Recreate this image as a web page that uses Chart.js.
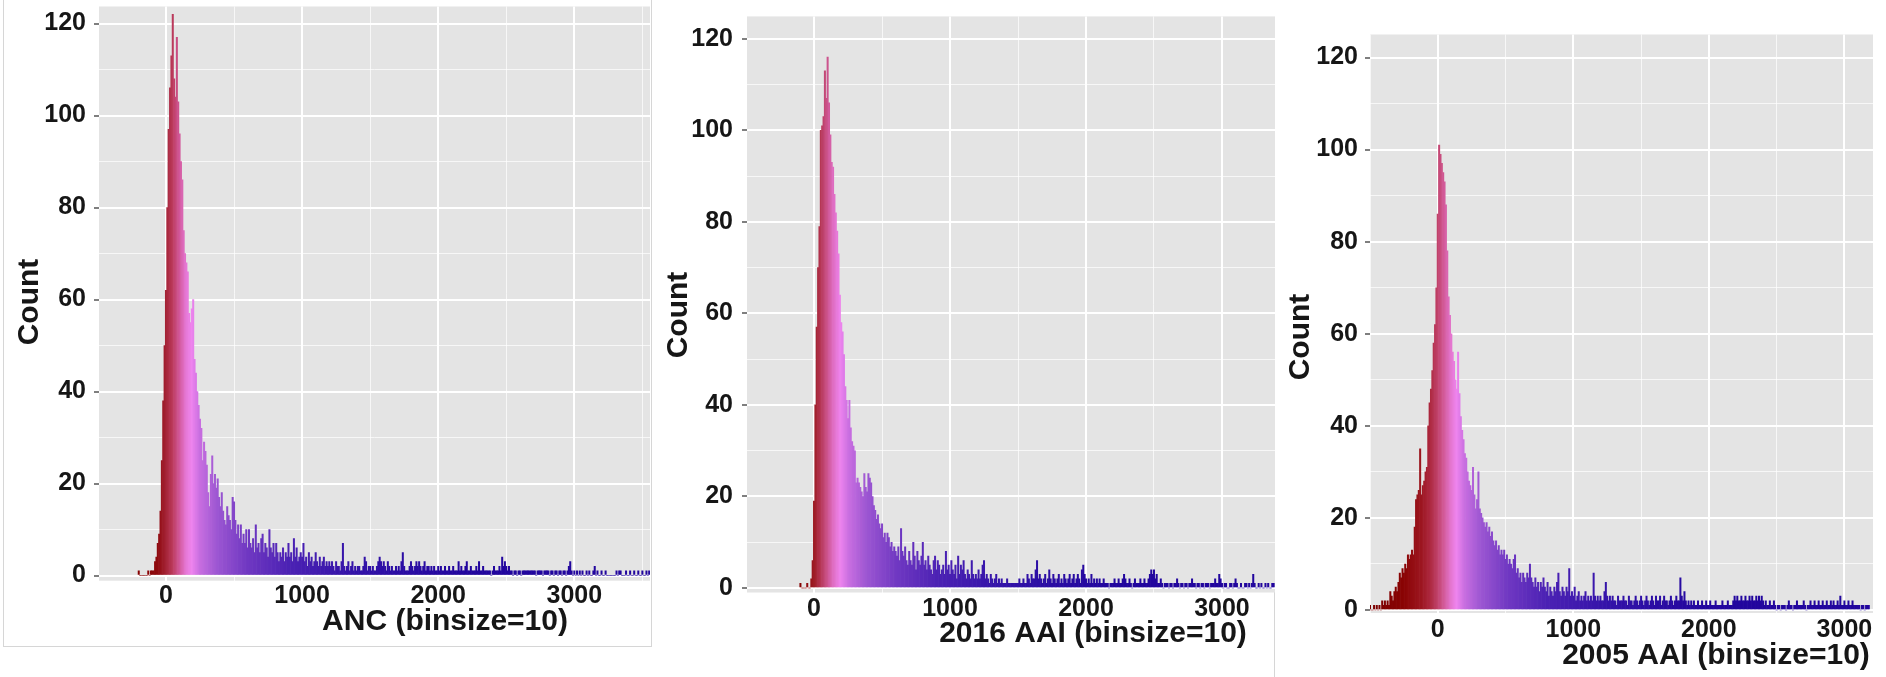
<!DOCTYPE html>
<html>
<head>
<meta charset="utf-8">
<script src="https://cdn.jsdelivr.net/npm/chart.js@4.4.1/dist/chart.umd.min.js"></script>
<style>
html,body{margin:0;padding:0;background:#ffffff;width:1886px;height:677px;overflow:hidden;position:relative;}
canvas{position:absolute;left:0;top:0;}
.frame{position:absolute;border:1px solid #d6d6d6;}
</style>
</head>
<body>
<div class="frame" style="left:3px;top:-2px;width:647px;height:647px;"></div>
<div class="frame" style="left:1274px;top:17px;width:0;height:670px;border-width:0 0 0 1px;"></div>
<canvas id="c1" width="1886" height="677"></canvas>
<canvas id="c2" width="1886" height="677"></canvas>
<canvas id="c3" width="1886" height="677"></canvas>
<script>
// ---------------- DATA ----------------
const BIN_SIZE = 10;
const xTickLabels = [0, 1000, 2000, 3000];
const xGridValues = [-500, 0, 500, 1000, 1500, 2000, 2500, 3000, 3500];
const yTickLabels = [0, 20, 40, 60, 80, 100, 120];
const yGridValues = [0, 10, 20, 30, 40, 50, 60, 70, 80, 90, 100, 110, 120];
const yAxisTitle = 'Count';

// Panel 1: ANC, first bin centre -200
const ancTitle = 'ANC (binsize=10)';
const ancStart = -200;
const ancCounts = [
  1,0,0,0,0,0,0,1,0,1,
  1,1,3,4,7,9,14,25,38,50,
  62,80,97,106,113,122,108,104,117,103,
  96,90,86,75,70,68,66,57,55,58,
  60,47,44,40,37,34,32,25,29,27,
  24,18,15,22,26,20,22,19,21,17,
  15,18,14,12,11,15,13,12,10,17,
  16,12,9,11,8,11,7,9,7,10,
  6,10,7,6,8,5,11,6,7,5,
  8,9,5,7,6,4,10,6,5,7,
  4,7,5,3,5,4,6,3,5,4,
  7,4,5,3,8,4,6,3,4,5,
  4,7,3,4,2,5,3,4,2,3,
  5,3,2,4,2,3,4,2,3,2,
  3,2,3,2,1,3,2,2,1,3,
  7,2,1,2,3,1,2,3,1,2,
  1,2,2,1,1,2,4,3,1,2,
  2,1,2,1,1,2,3,4,3,2,
  3,2,1,3,2,1,2,1,1,2,
  1,2,1,3,5,2,1,1,1,2,
  3,2,1,2,3,2,3,2,1,2,
  3,1,2,2,1,2,1,2,1,1,
  2,1,2,1,1,2,1,1,2,1,
  1,2,1,1,1,3,1,2,1,1,
  2,3,1,1,2,1,1,1,2,1,
  3,1,1,2,1,1,1,1,1,0,
  1,2,1,1,1,2,1,4,2,3,
  2,1,2,1,1,0,1,1,0,1,
  1,0,1,1,1,1,1,1,1,1,
  1,1,0,1,1,1,1,0,1,1,
  1,1,0,1,1,0,1,1,0,1,
  1,0,1,1,0,1,2,3,1,0,
  1,0,1,0,1,0,1,0,0,1,
  0,1,0,0,1,2,0,1,0,0,
  1,0,0,1,0,0,0,0,0,0,
  0,1,0,1,1,0,0,0,1,0,
  0,1,0,0,1,0,0,1,0,0,
  1,0,0,1,0,1
];

// Panel 2: 2016 AAI, first bin centre -100
const aai2016Title = '2016 AAI (binsize=10)';
const aai2016Start = -100;
const aai2016Counts = [
  1,0,0,0,0,1,0,0,2,6,
  19,40,57,70,79,100,101,103,113,107,
  116,106,99,93,92,86,82,78,73,64,
  58,56,51,44,41,37,41,35,32,31,
  30,23,24,23,22,21,20,25,22,21,
  25,24,23,20,18,17,15,16,14,13,
  14,11,12,10,12,11,9,10,8,9,
  8,7,9,6,13,8,7,9,6,5,
  8,6,5,10,7,4,8,6,5,7,
  10,5,6,4,7,5,4,3,6,7,
  4,6,5,3,4,5,3,8,4,5,
  3,6,4,3,5,2,7,3,5,4,
  6,3,2,4,3,2,6,3,2,3,
  2,4,2,3,5,6,2,3,2,1,
  3,2,1,2,3,1,2,1,2,1,
  1,1,2,1,1,1,1,1,1,1,
  1,2,1,1,2,1,1,3,2,1,
  3,2,2,4,6,2,3,2,1,2,
  3,1,2,4,2,1,3,2,1,2,
  3,1,2,1,3,2,1,2,3,1,
  2,3,1,2,3,2,1,4,5,3,
  2,1,2,1,3,1,2,1,2,1,
  2,1,1,2,1,1,1,0,1,1,
  1,2,1,1,2,1,1,2,3,2,
  1,1,2,1,0,1,2,1,1,1,
  2,1,1,2,1,1,2,3,4,3,
  4,2,3,1,1,2,1,0,1,1,
  1,0,1,1,0,1,1,2,1,0,
  1,1,0,1,1,0,1,1,2,1,
  1,0,1,1,0,1,1,0,1,1,
  1,0,1,1,1,2,1,1,3,2,
  1,0,1,1,0,0,1,1,0,1,
  2,1,0,0,1,0,0,1,1,0,
  1,0,1,3,1,0,0,1,0,1,
  0,0,1,0,1,0,0,1,1
];

// Panel 3: 2005 AAI, first bin centre -500
const aai2005Title = '2005 AAI (binsize=10)';
const aai2005Start = -500;
const aai2005Counts = [
  1,0,0,1,0,1,0,1,0,2,
  1,2,1,2,1,4,3,2,4,5,
  4,6,8,7,9,8,10,9,12,11,
  12,13,12,18,24,25,26,35,25,27,
  28,30,31,40,45,48,52,58,62,70,
  86,101,99,97,95,93,88,78,68,64,
  60,56,54,50,48,56,47,42,39,37,
  34,33,30,28,27,26,31,25,22,24,
  30,22,21,20,19,18,19,17,18,16,
  17,15,14,15,13,14,12,13,12,13,
  11,12,10,11,10,9,11,12,8,9,
  7,8,6,8,7,6,8,7,10,7,
  6,5,7,5,6,4,6,5,7,5,
  4,6,3,5,4,3,5,4,6,8,
  4,3,5,4,3,5,4,9,3,4,
  3,5,2,3,4,2,3,2,3,4,
  2,3,2,3,2,8,3,2,3,2,
  3,2,2,4,6,3,2,3,2,3,
  2,2,1,3,2,2,2,3,2,2,
  1,3,2,2,1,2,3,2,1,2,
  3,2,1,2,3,2,1,2,3,2,
  1,3,2,2,3,1,2,3,2,2,
  1,2,3,2,1,2,3,2,2,7,
  3,2,4,2,1,2,1,2,1,2,
  1,1,2,1,1,2,1,1,2,1,
  1,2,1,1,1,2,1,1,1,1,
  2,1,1,1,2,1,1,1,2,3,
  2,3,2,2,3,2,2,3,2,2,
  3,2,3,2,2,3,2,3,2,3,
  2,1,2,1,1,2,1,1,2,1,
  0,1,1,0,1,1,1,0,1,2,
  1,1,0,1,1,2,1,1,1,1,
  2,1,0,1,1,2,1,1,2,1,
  1,2,1,1,2,1,1,2,1,1,
  2,1,2,1,1,2,1,3,1,1,
  2,1,1,2,1,1,2,1,1,1,
  1,1,0,1,1,0,1,1,1
];

// ---------------- STYLE / LAYOUT ----------------
const FONT = '"Liberation Sans", Arial, Helvetica, sans-serif';
const TEXT_COLOR = '#161616';
const PANEL_BG = '#e4e4e4';

const panels = [
  { id:'c1', title: ancTitle, start: ancStart, counts: ancCounts,
    L:99, R:650, T:6.5, B:580.7, xMin:-492, xMax:3556, yMin:-1.13, yMax:123.7,
    yPad:8, xPad:0, xTitlePos:[445,622], yTitlePos:[29.5,302],
    stopV:[-200,-60,0,50,100,150,190,250,380,600,900,1400,2200],
    stopC:['#860000','#8e0a0e','#a32234','#bb3a5c','#d2589a','#e678d6','#ee84ee','#c86ee0','#9c56d2','#7038c2','#4c22b4','#3212a8','#22069e'] },
  { id:'c2', title: aai2016Title, start: aai2016Start, counts: aai2016Counts,
    L:747, R:1275, T:16.4, B:592.5, xMin:-493, xMax:3390, yMin:-0.98, yMax:124.9,
    yPad:9, xPad:1.5, xTitlePos:[1093,634], yTitlePos:[679,315],
    stopV:[-100,0,40,90,140,195,260,390,610,910,1410,2210],
    stopC:['#860000','#9c1a22','#b0304a','#c84e82','#de6cc0','#ee84ee','#c86ee0','#9c56d2','#7038c2','#4c22b4','#3212a8','#22069e'] },
  { id:'c3', title: aai2005Title, start: aai2005Start, counts: aai2005Counts,
    L:1370, R:1873, T:34.5, B:613, xMin:-500, xMax:3211, yMin:-0.65, yMax:125,
    yPad:7, xPad:2, xTitlePos:[1716,656], yTitlePos:[1301,337],
    stopV:[-500,-250,-120,-50,0,50,100,140,200,320,520,800,1300,2000],
    stopC:['#7a0000','#8a0404','#9c1620','#ae2a42','#c0426a','#d45c9c','#e476d0','#ee84ee','#c86ee0','#9c56d2','#7038c2','#4c22b4','#3212a8','#22069e'] }
];

function hexToRgb(h){ return [parseInt(h.slice(1,3),16), parseInt(h.slice(3,5),16), parseInt(h.slice(5,7),16)]; }
function colorAt(v, sv, sc){
  if (v <= sv[0]) return sc[0];
  if (v >= sv[sv.length-1]) return sc[sc.length-1];
  for (let i=1;i<sv.length;i++){
    if (v <= sv[i]){
      const t=(v-sv[i-1])/(sv[i]-sv[i-1]);
      const a=hexToRgb(sc[i-1]), b=hexToRgb(sc[i]);
      return 'rgb('+a.map((c,k)=>Math.round(c+(b[k]-c)*t)).join(',')+')';
    }
  }
  return sc[sc.length-1];
}

const panelDecor = {
  id:'panelDecor',
  beforeDraw(chart, args, o){
    const {ctx, chartArea:a} = chart;
    ctx.save();
    ctx.fillStyle = PANEL_BG;
    ctx.fillRect(a.left, a.top, a.right-a.left, a.bottom-a.top);
    ctx.restore();
  },
  afterDraw(chart, args, o){
    const ctx = chart.ctx;
    ctx.save();
    ctx.fillStyle = TEXT_COLOR;
    ctx.font = 'bold 30px ' + FONT;
    ctx.textAlign = 'center';
    ctx.textBaseline = 'middle';
    ctx.fillText(o.xTitle, o.xTitlePos[0], o.xTitlePos[1]);
    ctx.translate(o.yTitlePos[0], o.yTitlePos[1]);
    ctx.rotate(-Math.PI/2);
    ctx.fillText(o.yTitle, 0, 0);
    ctx.restore();
  }
};

Chart.defaults.font.family = FONT;
Chart.defaults.color = TEXT_COLOR;

const Y_W = 80, X_H = 40;
const isMajorX = ctx => !!(ctx.tick && xTickLabels.includes(ctx.tick.value));
const isMajorY = ctx => !!(ctx.tick && yTickLabels.includes(ctx.tick.value));
function setTicks(values){
  return s => { s.ticks = values.filter(v => v >= s.min && v <= s.max).map(v => ({value: v})); };
}

panels.forEach(p => {
  const points = p.counts.map((c,i) => ({x: p.start + i*BIN_SIZE, y: c}));
  new Chart(document.getElementById(p.id), {
    type: 'bar',
    data: { datasets: [{
      data: points,
      backgroundColor: ctx => colorAt(ctx.raw ? ctx.raw.x : 0, p.stopV, p.stopC),
      borderWidth: 0,
      barPercentage: 1.0,
      categoryPercentage: 1.0
    }]},
    plugins: [panelDecor],
    options: {
      responsive: false,
      animation: false,
      devicePixelRatio: 1,
      layout: { padding: { left: p.L - Y_W, right: 1886 - p.R, top: p.T, bottom: 677 - p.B - X_H } },
      plugins: {
        legend: { display:false },
        tooltip: { enabled:false },
        panelDecor: { xTitle: p.title, yTitle: yAxisTitle, xTitlePos: p.xTitlePos, yTitlePos: p.yTitlePos }
      },
      scales: {
        x: {
          type: 'linear', offset: false,
          min: p.xMin, max: p.xMax,
          afterBuildTicks: setTicks(xGridValues),
          afterFit: s => { s.height = X_H; s.paddingLeft = 0; s.paddingRight = 0; s.paddingTop = 0; s.paddingBottom = 0; },
          border: { display:false },
          grid: { offset:false, drawTicks:false,
                  color: ctx => isMajorX(ctx) ? '#ffffff' : 'rgba(255,255,255,0.7)',
                  lineWidth: ctx => isMajorX(ctx) ? 2 : 1 },
          ticks: { autoSkip:false, maxRotation:0, minRotation:0, padding: p.xPad,
                   font: { size:25, weight:'bold', lineHeight:1.2 }, color: TEXT_COLOR,
                   callback: v => xTickLabels.includes(v) ? String(v) : '' }
        },
        y: {
          type: 'linear',
          min: p.yMin, max: p.yMax,
          afterBuildTicks: setTicks(yGridValues),
          afterFit: s => { s.width = Y_W; s.paddingLeft = 0; s.paddingRight = 0; s.paddingTop = 0; s.paddingBottom = 0; },
          border: { display:false },
          grid: { drawTicks:true, tickLength:5,
                  color: ctx => isMajorY(ctx) ? '#ffffff' : 'rgba(255,255,255,0.7)',
                  lineWidth: ctx => isMajorY(ctx) ? 2 : 1,
                  tickColor: ctx => isMajorY(ctx) ? '#555555' : 'rgba(0,0,0,0)',
                  tickWidth: 1.5 },
          ticks: { autoSkip:false, padding: p.yPad,
                   font: { size:25, weight:'bold', lineHeight:1.2 }, color: TEXT_COLOR,
                   callback: v => yTickLabels.includes(v) ? String(v) : '' }
        }
      }
    }
  });
});
</script>
</body>
</html>
